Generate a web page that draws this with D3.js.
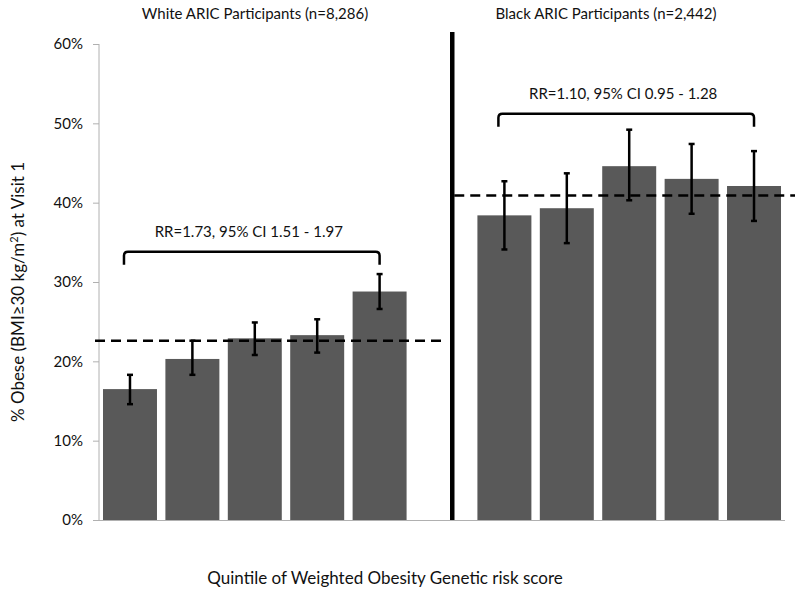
<!DOCTYPE html>
<html><head><meta charset="utf-8">
<script src="https://cdn.jsdelivr.net/npm/d3@7"></script>
<style>body{margin:0;background:#fff}svg{display:block}text{font-family:Lato,"Open Sans",sans-serif;fill:#111}</style>
</head><body><svg id="c" width="800" height="594"></svg>
<script>
const quintiles = ["Q1","Q2","Q3","Q4","Q5"];
const groups = ["White ARIC Participants (n=8,286)", "Black ARIC Participants (n=2,442)"];
const whiteValues = [0.165, 0.203, 0.229, 0.233, 0.288];
const whiteLower  = [0.146, 0.183, 0.208, 0.211, 0.266];
const whiteUpper  = [0.183, 0.226, 0.249, 0.253, 0.310];
const blackValues = [0.384, 0.393, 0.446, 0.430, 0.421];
const blackLower  = [0.341, 0.349, 0.403, 0.386, 0.377];
const blackUpper  = [0.427, 0.437, 0.492, 0.474, 0.465];
const groupMeans  = [0.226, 0.409];
const rrLabels = ["RR=1.73, 95% CI 1.51 - 1.97", "RR=1.10, 95% CI 0.95 - 1.28"];
const bracketLevels = [0.338, 0.512];
const yTicks = [0, 0.1, 0.2, 0.3, 0.4, 0.5, 0.6];
const xTitle = "Quintile of Weighted Obesity Genetic risk score";

const slots = [...quintiles.map(q=>"W"+q), "sep", ...quintiles.map(q=>"B"+q)];
const svg = d3.select("#c");
const y = d3.scaleLinear().domain([0,0.6]).range([520,44]);
const x = d3.scaleBand().domain(slots).range([99,785]).paddingInner(0.135).paddingOuter(0.064);
const axisCol = "#b0b0b0";

// y axis
const ya = svg.append("g").attr("transform","translate(99,0)")
  .call(d3.axisLeft(y).tickValues(yTicks).tickFormat(d3.format(".0%")).tickSize(6).tickPadding(10));
ya.selectAll("path,line").attr("stroke",axisCol);
ya.select("path").attr("d","M0,44V521");
ya.selectAll("text").attr("font-size",15).attr("font-family","Lato").attr("fill","#111");

// x axis line
svg.append("line").attr("x1",99).attr("x2",785).attr("y1",y(0)+0.5).attr("y2",y(0)+0.5).attr("stroke",axisCol);

const data = [];
quintiles.forEach((q,i)=>{
  data.push({slot:"W"+q, v:whiteValues[i], lo:whiteLower[i], hi:whiteUpper[i]});
});
quintiles.forEach((q,i)=>{
  data.push({slot:"B"+q, v:blackValues[i], lo:blackLower[i], hi:blackUpper[i]});
});

svg.append("g").selectAll("rect").data(data).join("rect")
  .attr("x",d=>x(d.slot)).attr("width",x.bandwidth())
  .attr("y",d=>y(d.v)).attr("height",d=>y(0)-y(d.v)).attr("fill","#595959");

// dashed mean lines
const sepX = x("sep") + x.bandwidth()*0.69;
svg.append("line").attr("x1",95).attr("x2",sepX-8).attr("y1",y(groupMeans[0])).attr("y2",y(groupMeans[0]))
  .attr("stroke","#000").attr("stroke-width",2.5).attr("stroke-dasharray","10,6");
svg.append("line").attr("x1",sepX+2).attr("x2",795).attr("y1",y(groupMeans[1])).attr("y2",y(groupMeans[1]))
  .attr("stroke","#000").attr("stroke-width",2.5).attr("stroke-dasharray","10,6");

// error bars
const eb = svg.append("g").attr("stroke","#000").attr("stroke-width",2.5);
data.forEach(d=>{
  const cx = x(d.slot)+x.bandwidth()/2;
  eb.append("line").attr("x1",cx).attr("x2",cx).attr("y1",y(d.hi)).attr("y2",y(d.lo));
  eb.append("line").attr("x1",cx-3).attr("x2",cx+3).attr("y1",y(d.hi)).attr("y2",y(d.hi));
  eb.append("line").attr("x1",cx-3).attr("x2",cx+3).attr("y1",y(d.lo)).attr("y2",y(d.lo));
});

// divider
svg.append("line").attr("x1",sepX).attr("x2",sepX).attr("y1",32).attr("y2",y(0))
  .attr("stroke","#000").attr("stroke-width",4.5);

// brackets
["W","B"].forEach((g,gi)=>{
  const x1 = x(g+"Q1")+x.bandwidth()/2-6;
  const x2 = x(g+"Q5")+x.bandwidth()/2;
  const yb = y(bracketLevels[gi]);
  const r = 4, drop = 13;
  svg.append("path").attr("fill","none").attr("stroke","#000").attr("stroke-width",2.5)
    .attr("d",`M${x1},${yb+drop}V${yb+r}Q${x1},${yb} ${x1+r},${yb}H${x2-r}Q${x2},${yb} ${x2},${yb+r}V${yb+drop}`);
  svg.append("text").attr("x",(x1+x2)/2-3).attr("y",yb-15).attr("text-anchor","middle")
    .attr("font-size",15).text(rrLabels[gi]);
});

// group titles
svg.append("text").attr("x",255).attr("y",19).attr("text-anchor","middle").attr("font-size",15).text(groups[0]);
svg.append("text").attr("x",606).attr("y",19).attr("text-anchor","middle").attr("font-size",15).text(groups[1]);

// x title
svg.append("text").attr("x",385).attr("y",584).attr("text-anchor","middle").attr("font-size",17).text(xTitle);

// y title
const yt = svg.append("text").attr("transform","translate(24,292) rotate(-90)").attr("text-anchor","middle").attr("font-size",17);
yt.append("tspan").text("% Obese (BMI\u226530 kg/m");
yt.append("tspan").attr("baseline-shift","super").attr("font-size",11).text("2");
yt.append("tspan").text(") at Visit 1");
</script></body></html>
